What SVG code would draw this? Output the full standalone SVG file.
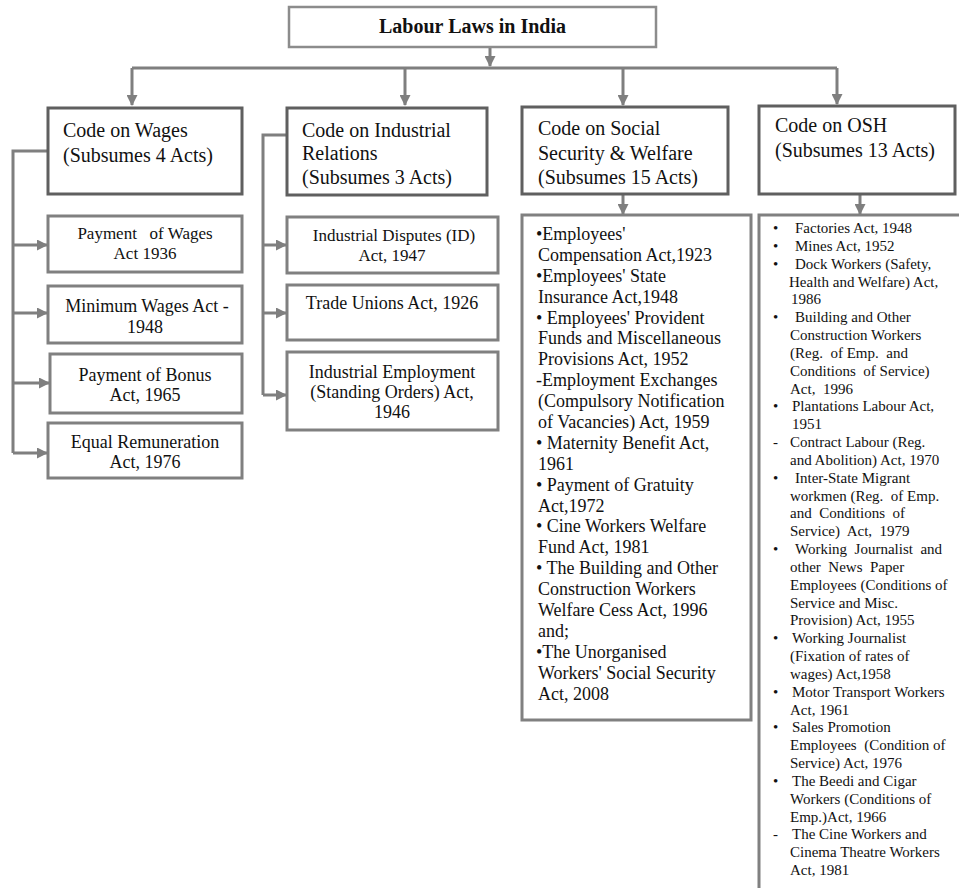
<svg xmlns="http://www.w3.org/2000/svg" width="959" height="888" viewBox="0 0 959 888">
<style>
text { font-family: "Liberation Serif", "Times New Roman", serif; fill: #111; }
.title { font-size: 20px; font-weight: bold; }
.hdr { font-size: 20px; }
.itm { font-size: 18px; }
.itm2 { font-size: 17px; }
.lst { font-size: 18px; }
.osh { font-size: 15px; }
.boxT { fill: #fff; stroke: #8c8c8c; stroke-width: 2.5; }
.boxH { fill: #fff; stroke: #5f5f5f; stroke-width: 3; }
.boxC { fill: #fff; stroke: #808080; stroke-width: 3; }
.con { fill: none; stroke: #7f7f7f; stroke-width: 3; }
</style>
<defs>
<marker id="arr" markerUnits="userSpaceOnUse" markerWidth="11" markerHeight="11" refX="10" refY="5.5" orient="auto">
<path d="M0,0 L11,5.5 L0,11 z" fill="#7f7f7f"/>
</marker>
</defs>
<rect width="959" height="888" fill="#fff"/>

<g id="connectors">
<path class="con" d="M490,47 V66" marker-end="url(#arr)"/>
<path class="con" d="M132,68 H837"/>
<path class="con" d="M132,68 V105" marker-end="url(#arr)"/>
<path class="con" d="M405,68 V105" marker-end="url(#arr)"/>
<path class="con" d="M623,68 V105" marker-end="url(#arr)"/>
<path class="con" d="M837,68 V104" marker-end="url(#arr)"/>
<path class="con" d="M623,194 V214" marker-end="url(#arr)"/>
<path class="con" d="M860,194 V214" marker-end="url(#arr)"/>
<path class="con" d="M48,151 H13 V453"/>
<path class="con" d="M13,245 H47" marker-end="url(#arr)"/>
<path class="con" d="M13,313 H47" marker-end="url(#arr)"/>
<path class="con" d="M13,383 H49" marker-end="url(#arr)"/>
<path class="con" d="M13,453 H47" marker-end="url(#arr)"/>
<path class="con" d="M287,135 H263 V395"/>
<path class="con" d="M263,245 H286" marker-end="url(#arr)"/>
<path class="con" d="M263,313 H286" marker-end="url(#arr)"/>
<path class="con" d="M263,395 H286" marker-end="url(#arr)"/>
</g>

<g id="title">
<rect class="boxT" x="289" y="7" width="367" height="40"/>
<text class="title" x="472.5" y="33" text-anchor="middle">Labour Laws in India</text>
</g>

<g id="code-wages">
<rect class="boxH" x="48" y="108" width="194" height="86"/>
<text class="hdr" x="63" y="137">Code on Wages</text>
<text class="hdr" x="63" y="162">(Subsumes 4 Acts)</text>
</g>

<g id="code-ir">
<rect class="boxH" x="287" y="108" width="200" height="87"/>
<text class="hdr" x="302" y="137">Code on Industrial</text>
<text class="hdr" x="302" y="160">Relations</text>
<text class="hdr" x="302" y="184">(Subsumes 3 Acts)</text>
</g>

<g id="code-ss">
<rect class="boxH" x="522" y="107" width="206" height="87"/>
<text class="hdr" x="538" y="135">Code on Social</text>
<text class="hdr" x="538" y="160">Security &amp; Welfare</text>
<text class="hdr" x="538" y="184">(Subsumes 15 Acts)</text>
</g>

<g id="code-osh">
<rect class="boxH" x="759" y="106" width="196" height="88"/>
<text class="hdr" x="775" y="132">Code on OSH</text>
<text class="hdr" x="775" y="157">(Subsumes 13 Acts)</text>
</g>

<g id="payment-wages">
<rect class="boxC" x="48" y="216" width="194" height="56"/>
<text class="itm2" x="145" y="239" text-anchor="middle" xml:space="preserve">Payment   of Wages</text>
<text class="itm2" x="145" y="259" text-anchor="middle">Act 1936</text>
</g>

<g id="minimum-wages">
<rect class="boxC" x="48" y="286" width="194" height="57"/>
<text class="itm" x="147" y="312" text-anchor="middle">Minimum Wages Act -</text>
<text class="itm" x="145" y="333" text-anchor="middle">1948</text>
</g>

<g id="bonus">
<rect class="boxC" x="50" y="354" width="192" height="59"/>
<text class="itm" x="145" y="381" text-anchor="middle">Payment of Bonus</text>
<text class="itm" x="145" y="401" text-anchor="middle">Act, 1965</text>
</g>

<g id="equal-rem">
<rect class="boxC" x="48" y="423" width="194" height="55"/>
<text class="itm" x="145" y="448" text-anchor="middle">Equal Remuneration</text>
<text class="itm" x="145" y="468" text-anchor="middle">Act, 1976</text>
</g>

<g id="industrial-disputes">
<rect class="boxC" x="287" y="217" width="211" height="56"/>
<text class="itm2" x="394" y="241" text-anchor="middle">Industrial Disputes (ID)</text>
<text class="itm2" x="392" y="261" text-anchor="middle">Act, 1947</text>
</g>

<g id="trade-unions">
<rect class="boxC" x="287" y="285" width="211" height="55"/>
<text class="itm" x="392" y="309" text-anchor="middle">Trade Unions Act, 1926</text>
</g>

<g id="industrial-employment">
<rect class="boxC" x="287" y="352" width="211" height="78"/>
<text class="itm" x="392" y="378" text-anchor="middle">Industrial Employment</text>
<text class="itm" x="392" y="398" text-anchor="middle">(Standing Orders) Act,</text>
<text class="itm" x="392" y="418" text-anchor="middle">1946</text>
</g>

<g id="ss-acts">
<rect class="boxC" x="522" y="215" width="229" height="505"/>
<text class="lst" x="536" y="240">•Employees'</text>
<text class="lst" x="538" y="261">Compensation Act,1923</text>
<text class="lst" x="536" y="282">•Employees' State</text>
<text class="lst" x="538" y="303">Insurance Act,1948</text>
<text class="lst" x="536" y="324">• Employees' Provident</text>
<text class="lst" x="538" y="344">Funds and Miscellaneous</text>
<text class="lst" x="538" y="365">Provisions Act, 1952</text>
<text class="lst" x="536" y="386">-Employment Exchanges</text>
<text class="lst" x="538" y="407">(Compulsory Notification</text>
<text class="lst" x="538" y="428">of Vacancies) Act, 1959</text>
<text class="lst" x="536" y="449">• Maternity Benefit Act,</text>
<text class="lst" x="538" y="470">1961</text>
<text class="lst" x="536" y="491">• Payment of Gratuity</text>
<text class="lst" x="538" y="512">Act,1972</text>
<text class="lst" x="536" y="532">• Cine Workers Welfare</text>
<text class="lst" x="538" y="553">Fund Act, 1981</text>
<text class="lst" x="536" y="574">• The Building and Other</text>
<text class="lst" x="538" y="595">Construction Workers</text>
<text class="lst" x="538" y="616">Welfare Cess Act, 1996</text>
<text class="lst" x="538" y="637">and;</text>
<text class="lst" x="536" y="658">•The Unorganised</text>
<text class="lst" x="538" y="679">Workers' Social Security</text>
<text class="lst" x="538" y="700">Act, 2008</text>
</g>

<g id="osh-acts">
<rect class="boxC" x="759" y="215" width="210" height="690"/>
<text class="osh" x="773" y="233">•</text><text class="osh" x="795" y="233">Factories Act, 1948</text>
<text class="osh" x="773" y="251">•</text><text class="osh" x="795" y="251">Mines Act, 1952</text>
<text class="osh" x="773" y="269">•</text><text class="osh" x="795" y="269">Dock Workers (Safety,</text>
<text class="osh" x="789" y="287">Health and Welfare) Act,</text>
<text class="osh" x="791" y="304">1986</text>
<text class="osh" x="773" y="322">•</text><text class="osh" x="795" y="322">Building and Other</text>
<text class="osh" x="790" y="340">Construction Workers</text>
<text class="osh" x="790" y="358" xml:space="preserve">(Reg.  of Emp.  and</text>
<text class="osh" x="790" y="376" xml:space="preserve">Conditions  of Service)</text>
<text class="osh" x="790" y="394" xml:space="preserve">Act,  1996</text>
<text class="osh" x="773" y="411">•</text><text class="osh" x="792" y="411">Plantations Labour Act,</text>
<text class="osh" x="792" y="429">1951</text>
<text class="osh" x="773" y="447">-</text><text class="osh" x="790" y="447">Contract Labour (Reg.</text>
<text class="osh" x="790" y="465">and Abolition) Act, 1970</text>
<text class="osh" x="773" y="483">•</text><text class="osh" x="795" y="483">Inter-State Migrant</text>
<text class="osh" x="790" y="501" xml:space="preserve">workmen (Reg.  of Emp.</text>
<text class="osh" x="790" y="518" xml:space="preserve">and  Conditions  of</text>
<text class="osh" x="790" y="536" xml:space="preserve">Service)  Act,  1979</text>
<text class="osh" x="773" y="554">•</text><text class="osh" x="795" y="554" xml:space="preserve">Working  Journalist  and</text>
<text class="osh" x="790" y="572" xml:space="preserve">other  News  Paper</text>
<text class="osh" x="790" y="590">Employees (Conditions of</text>
<text class="osh" x="790" y="608">Service and Misc.</text>
<text class="osh" x="790" y="625">Provision) Act, 1955</text>
<text class="osh" x="773" y="643">•</text><text class="osh" x="792" y="643">Working Journalist</text>
<text class="osh" x="790" y="661">(Fixation of rates of</text>
<text class="osh" x="790" y="679">wages) Act,1958</text>
<text class="osh" x="773" y="697">•</text><text class="osh" x="792" y="697">Motor Transport Workers</text>
<text class="osh" x="790" y="715">Act, 1961</text>
<text class="osh" x="773" y="732">•</text><text class="osh" x="792" y="732">Sales Promotion</text>
<text class="osh" x="790" y="750" xml:space="preserve">Employees  (Condition of</text>
<text class="osh" x="790" y="768">Service) Act, 1976</text>
<text class="osh" x="773" y="786">•</text><text class="osh" x="792" y="786">The Beedi and Cigar</text>
<text class="osh" x="790" y="804">Workers (Conditions of</text>
<text class="osh" x="790" y="822">Emp.)Act, 1966</text>
<text class="osh" x="773" y="839">-</text><text class="osh" x="792" y="839">The Cine Workers and</text>
<text class="osh" x="790" y="857">Cinema Theatre Workers</text>
<text class="osh" x="790" y="875">Act, 1981</text>
</g>
</svg>
